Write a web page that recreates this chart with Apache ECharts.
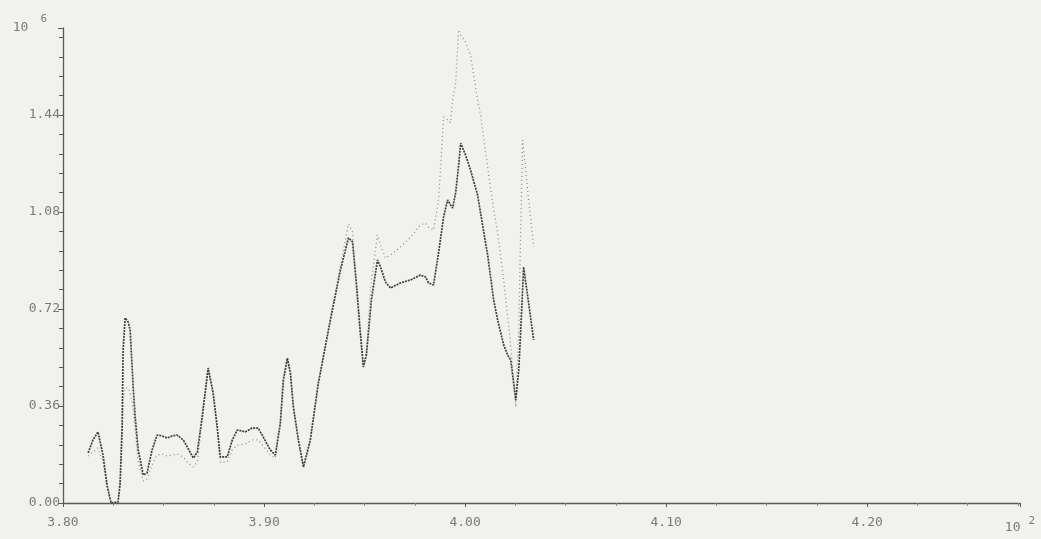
<!DOCTYPE html>
<html>
<head>
<meta charset="utf-8">
<script src="https://cdn.jsdelivr.net/npm/echarts@6/dist/echarts.min.js"></script>
<style>
html,body{margin:0;padding:0;background:#f1f2ee;}
#chart{width:1041px;height:539px;}
</style>
</head>
<body>
<div id="chart"></div>
<script>
// x positions (in units of 10^2)
const xValues = [
3.8125,3.8149,3.8174,3.8199,3.8219,3.8239,3.8274,3.8284,3.8294,3.8299,
3.8309,3.8324,3.8334,3.8349,3.8359,3.8374,3.8399,3.8418,3.8443,3.8468,
3.8493,3.8518,3.8543,3.8568,3.8598,3.8618,3.8648,3.8668,3.8692,3.8722,
3.8747,3.8767,3.8782,3.8817,3.8842,3.8867,3.8907,3.8941,3.8971,3.8996,
3.9031,3.9056,3.9081,3.9096,3.9116,3.9131,3.9146,3.9171,3.9196,3.9230,
3.9270,3.9330,3.9380,3.9420,3.9440,3.9460,3.9479,3.9494,3.9509,3.9534,
3.9564,3.9579,3.9604,3.9629,3.9679,3.9729,3.9778,3.9803,3.9818,3.9843,
3.9868,3.9893,3.9913,3.9928,3.9938,3.9953,3.9968,3.9978,4.0002,4.0027,
4.0062,4.0077,4.0112,4.0142,4.0162,4.0192,4.0212,4.0227,4.0252,4.0267,
4.0276,4.0286,4.0291,4.0316,4.0341
];
// solid (dense) curve, units of 10^6
const seriesSolid = [
0.186,0.234,0.264,0.178,0.067,0.000,0.004,0.074,0.282,0.568,
0.687,0.672,0.642,0.431,0.319,0.197,0.104,0.111,0.197,0.252,
0.249,0.241,0.249,0.252,0.234,0.208,0.167,0.189,0.319,0.501,
0.408,0.282,0.171,0.171,0.234,0.271,0.264,0.278,0.278,0.245,
0.197,0.178,0.297,0.457,0.538,0.483,0.356,0.234,0.134,0.234,
0.445,0.679,0.865,0.984,0.969,0.809,0.631,0.505,0.549,0.754,
0.902,0.876,0.820,0.798,0.817,0.828,0.846,0.839,0.817,0.809,
0.928,1.062,1.125,1.106,1.095,1.151,1.255,1.336,1.292,1.236,
1.143,1.076,0.921,0.754,0.679,0.586,0.549,0.531,0.382,0.494,
0.631,0.791,0.876,0.742,0.605
];
// dotted (sparse) curve, units of 10^6
const seriesDotted = [
0.174,0.189,0.204,0.152,0.059,0.000,0.004,0.067,0.234,0.382,
0.427,0.427,0.412,0.345,0.271,0.152,0.082,0.089,0.141,0.178,
0.182,0.174,0.178,0.182,0.171,0.152,0.134,0.152,0.308,0.494,
0.401,0.271,0.152,0.152,0.197,0.215,0.219,0.234,0.234,0.212,
0.178,0.167,0.290,0.449,0.531,0.475,0.349,0.226,0.130,0.230,
0.442,0.687,0.880,1.036,1.006,0.791,0.624,0.505,0.561,0.828,
0.995,0.958,0.909,0.921,0.950,0.987,1.032,1.039,1.024,1.013,
1.125,1.433,1.422,1.411,1.496,1.559,1.756,1.737,1.711,1.663,
1.496,1.440,1.247,1.088,1.002,0.828,0.690,0.586,0.356,0.642,
1.002,1.347,1.310,1.125,0.950
];
const xTickLabels = ['3.80','3.90','4.00','4.10','4.20'];
const yTickLabels = ['0.00','0.36','0.72','1.08','1.44'];
const xExponent = ['10','2'];
const yExponent = ['10','6'];

const X_MIN = 3.80, X_MAX = 4.276, X_STEP = 0.1;
const Y_MIN = 0, Y_MAX = 1.763, Y_STEP = 0.36;

const solidData = xValues.map((x, i) => [x, seriesSolid[i]]);
const dottedData = xValues.map((x, i) => [x, seriesDotted[i]]);

const FONT = 'DejaVu Sans Mono';
const LABEL_COLOR = '#7a7a78';
const AXIS_COLOR = '#5a5a58';

const chart = echarts.init(document.getElementById('chart'), null, {renderer: 'canvas'});
chart.setOption({
  backgroundColor: '#f1f2ee',
  animation: false,
  grid: {left: 63, right: 21, top: 28, bottom: 36, containLabel: false},
  xAxis: {
    type: 'value', min: X_MIN, max: X_MAX, interval: X_STEP,
    axisLine: {show: true, onZero: false, lineStyle: {color: AXIS_COLOR, width: 1.3}},
    axisTick: {show: true, inside: false, length: 4, lineStyle: {color: AXIS_COLOR}},
    minorTick: {show: true, splitNumber: 4, length: 3, lineStyle: {color: '#8a8a88'}},
    splitLine: {show: false},
    axisLabel: {
      margin: 13, color: LABEL_COLOR, fontFamily: FONT, fontSize: 13,
      formatter: function (v) {
        const idx = Math.round((v - X_MIN) / X_STEP);
        if (Math.abs(v - X_MAX) < 1e-6) return '{b|' + xExponent[0] + '}{s|' + xExponent[1] + '}';
        return xTickLabels[idx] !== undefined ? xTickLabels[idx] : '';
      },
      rich: {
        b: {fontFamily: FONT, fontSize: 13, color: LABEL_COLOR},
        s: {fontFamily: FONT, fontSize: 11, color: LABEL_COLOR, padding: [0, 0, 12, 8]}
      }
    }
  },
  yAxis: {
    type: 'value', min: Y_MIN, max: Y_MAX, interval: Y_STEP,
    axisLine: {show: true, onZero: false, lineStyle: {color: AXIS_COLOR, width: 1.3}},
    axisTick: {show: true, inside: false, length: 5, lineStyle: {color: AXIS_COLOR}},
    minorTick: {show: true, splitNumber: 5, length: 4, lineStyle: {color: AXIS_COLOR}},
    splitLine: {show: false},
    axisLabel: {
      margin: 3, color: LABEL_COLOR, fontFamily: FONT, fontSize: 13,
      formatter: function (v) {
        if (Math.abs(v - Y_MAX) < 1e-6) return '{b|' + yExponent[0] + '}{s|' + yExponent[1] + '}';
        const idx = Math.round((v - Y_MIN) / Y_STEP);
        return yTickLabels[idx] !== undefined ? yTickLabels[idx] : '';
      },
      rich: {
        b: {fontFamily: FONT, fontSize: 13, color: LABEL_COLOR},
        s: {fontFamily: FONT, fontSize: 11, color: LABEL_COLOR, padding: [0, 13, 18, 12]}
      }
    }
  },
  series: [
    {
      name: 'dotted', type: 'line', data: dottedData, symbol: 'none', smooth: false,
      lineStyle: {color: '#8c8c8a', width: 1.3, type: [1, 3]}, z: 2
    },
    {
      name: 'solid', type: 'line', data: solidData, symbol: 'none', smooth: false,
      lineStyle: {color: '#3e3e3c', width: 1.7, type: [2, 1]}, z: 3
    }
  ]
});
</script>
</body>
</html>
